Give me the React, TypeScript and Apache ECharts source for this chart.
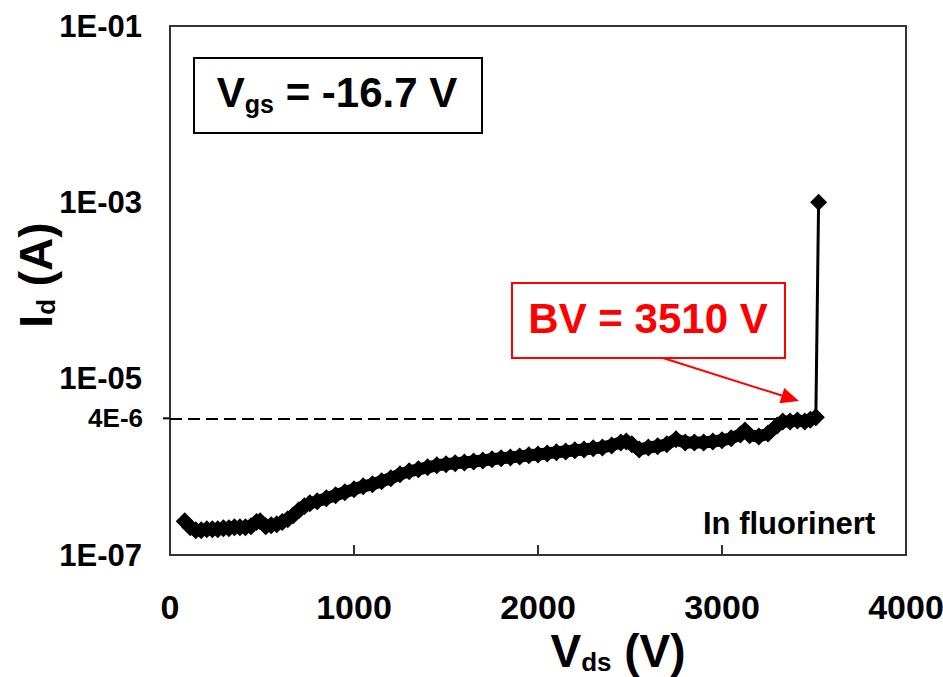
import React, { useEffect, useRef } from "react";
import * as echarts from "echarts";

// Drain voltage (V)
const vds = [
  80, 110, 140, 170, 200, 230, 260, 290, 320, 350,
  380, 410, 440, 470, 490, 520, 550, 580, 610, 640,
  670, 700, 730, 760, 800, 850, 900, 950, 1000, 1050,
  1100, 1150, 1200, 1250, 1300, 1350, 1400, 1450, 1500, 1550,
  1600, 1650, 1700, 1750, 1800, 1850, 1900, 1950, 2000, 2050,
  2100, 2150, 2200, 2250, 2300, 2350, 2400, 2450, 2480, 2510,
  2550, 2600, 2650, 2700, 2750, 2800, 2850, 2900, 2950, 3000,
  3050, 3100, 3125, 3150, 3200, 3250, 3300, 3330, 3370, 3410,
  3450, 3480, 3510, 3525,
];
// Drain current (A)
const idA = [
  2.41e-7, 2.07e-7, 1.91e-7, 1.91e-7, 1.96e-7, 1.96e-7, 1.96e-7, 2.01e-7, 2.01e-7, 2.07e-7,
  2.07e-7, 2.07e-7, 2.12e-7, 2.36e-7, 2.41e-7, 2.12e-7, 2.17e-7, 2.23e-7, 2.36e-7, 2.55e-7,
  2.82e-7, 3.21e-7, 3.57e-7, 3.86e-7, 4.06e-7, 4.4e-7, 4.75e-7, 5.14e-7, 5.56e-7, 6.01e-7,
  6.34e-7, 6.85e-7, 7.41e-7, 8.22e-7, 8.89e-7, 9.37e-7, 9.87e-7, 1.04e-6, 1.07e-6, 1.1e-6,
  1.12e-6, 1.15e-6, 1.18e-6, 1.22e-6, 1.25e-6, 1.28e-6, 1.31e-6, 1.35e-6, 1.38e-6, 1.42e-6,
  1.46e-6, 1.49e-6, 1.54e-6, 1.57e-6, 1.62e-6, 1.66e-6, 1.75e-6, 1.89e-6, 1.94e-6, 1.8e-6,
  1.57e-6, 1.66e-6, 1.71e-6, 1.8e-6, 2.05e-6, 1.89e-6, 1.89e-6, 1.89e-6, 1.94e-6, 2.0e-6,
  2.11e-6, 2.33e-6, 2.59e-6, 2.28e-6, 2.21e-6, 2.39e-6, 2.95e-6, 3.27e-6, 3.27e-6, 3.35e-6,
  3.27e-6, 3.43e-6, 3.64e-6, 1.0e-3,
];

const xTickValues = [0, 1000, 2000, 3000, 4000];
const yTickValues = [1e-7, 1e-5, 1e-3, 1e-1];
const yTickLabels = ["1E-07", "1E-05", "1E-03", "1E-01"];

const refLevel = 3.55e-6;
const refLevelLabel = "4E-6";
const bvVoltage = 3510;
const vgsText = "-16.7 V";
const bvText = "BV = 3510 V";
const noteText = "In fluorinert";

const FONT = "Liberation Sans, Arial, Helvetica, sans-serif";

export default function App() {
  const ref = useRef<HTMLDivElement>(null);

  useEffect(() => {
    document.body.style.margin = "0";
    const chart = echarts.init(ref.current!, null, { renderer: "svg" });

    const yLabel = (v: number) => {
      const e = Math.round(Math.log10(v));
      const i = yTickValues.findIndex((t) => Math.round(Math.log10(t)) === e);
      return i >= 0 ? yTickLabels[i] : "";
    };

    const pts = vds.map((v, i) => [v, idA[i]]);
    const n = pts.length;

    chart.setOption({
      animation: false,
      backgroundColor: "#ffffff",
      grid: {
        left: 170,
        top: 26,
        width: 736,
        height: 529,
        show: true,
        borderColor: "#333",
        borderWidth: 2,
        backgroundColor: "transparent",
        containLabel: false,
        outerBoundsMode: "none",
      },
      xAxis: {
        type: "value",
        min: xTickValues[0],
        max: xTickValues[xTickValues.length - 1],
        interval: 1000,
        axisLine: { show: true, onZero: false, lineStyle: { color: "#333", width: 2 } },
        axisTick: { show: true, inside: true, length: 10, lineStyle: { color: "#333", width: 2 } },
        splitLine: { show: false },
        axisLabel: {
          formatter: (v: number) => String(v),
          margin: 35,
          fontSize: 34,
          fontWeight: "bold",
          fontFamily: FONT,
          color: "#000",
        },
      },
      yAxis: {
        type: "log",
        logBase: 10,
        min: 1e-7,
        max: 1e-1,
        axisLine: { show: true, lineStyle: { color: "#333", width: 2 } },
        axisTick: { show: false },
        minorTick: { show: false },
        splitLine: { show: false },
        axisLabel: {
          formatter: yLabel,
          margin: 28,
          fontSize: 31,
          fontWeight: "bold",
          fontFamily: FONT,
          color: "#000",
        },
      },
      series: [
        {
          type: "line",
          data: pts.slice(0, n - 1),
          symbol: "diamond",
          symbolSize: 18,
          showAllSymbol: true,
          itemStyle: { color: "#000" },
          lineStyle: { color: "#000", width: 12, join: "round", cap: "round" },
          z: 3,
          markLine: {
            silent: true,
            symbol: ["none", "none"],
            lineStyle: { type: [12, 6], color: "#000", width: 2 },
            label: {
              show: true,
              position: "start",
              distance: 27,
              formatter: refLevelLabel,
              fontSize: 26,
              fontWeight: "bold",
              fontFamily: FONT,
              color: "#000",
            },
            data: [[{ coord: [0, refLevel] }, { coord: [bvVoltage, refLevel] }]],
          },
        },
        {
          // breakdown jump: thin vertical segment up to the last point
          type: "line",
          data: pts.slice(n - 2),
          symbol: "diamond",
          symbolSize: 17,
          showAllSymbol: true,
          itemStyle: { color: "#000" },
          lineStyle: { color: "#000", width: 3 },
          z: 4,
        },
      ],
    });

    const p0 = chart.convertToPixel({ gridIndex: 0 }, [0, refLevel]) as number[];

    // arrow geometry
    const ax0 = 663, ay0 = 358, tx = 799, ty = 401;
    const dx = tx - ax0, dy = ty - ay0;
    const L = Math.sqrt(dx * dx + dy * dy);
    const ux = dx / L, uy = dy / L;
    const hl = 18, hw = 8;
    const bx = tx - hl * ux, by = ty - hl * uy;

    chart.setOption({
      graphic: [
        {
          type: "line",
          shape: { x1: p0[0] - 7, y1: p0[1], x2: p0[0], y2: p0[1] },
          style: { stroke: "#000", lineWidth: 2 },
        },
        {
          type: "rect",
          shape: { x: 194, y: 58, width: 288, height: 75 },
          style: { fill: "#fff", stroke: "#000", lineWidth: 2 },
          z: 10,
        },
        {
          type: "text",
          x: 337,
          y: 92,
          z: 11,
          style: {
            text: "{m|V}{s|gs}{m| = " + vgsText + "}",
            align: "center",
            verticalAlign: "middle",
            rich: {
              m: { fontSize: 42, fontWeight: "bold", fontFamily: FONT, fill: "#000" },
              s: { fontSize: 25, fontWeight: "bold", fontFamily: FONT, fill: "#000", padding: [24, 0, 0, 0] },
            },
          },
        },
        {
          type: "rect",
          shape: { x: 512, y: 283, width: 273, height: 75 },
          style: { fill: "#fff", stroke: "#ff0000", lineWidth: 2 },
          z: 10,
        },
        {
          type: "text",
          x: 648,
          y: 318,
          z: 11,
          style: {
            text: bvText,
            align: "center",
            verticalAlign: "middle",
            fontSize: 42,
            fontWeight: "bold",
            fontFamily: FONT,
            fill: "#ff0000",
          },
        },
        {
          type: "line",
          z: 11,
          shape: { x1: ax0, y1: ay0, x2: bx, y2: by },
          style: { stroke: "#ff0000", lineWidth: 2 },
        },
        {
          type: "polygon",
          z: 11,
          shape: {
            points: [
              [tx, ty],
              [bx - hw * uy, by + hw * ux],
              [bx + hw * uy, by - hw * ux],
            ],
          },
          style: { fill: "#ff0000" },
        },
        {
          type: "text",
          x: 703,
          y: 523,
          z: 11,
          style: {
            text: noteText,
            align: "left",
            verticalAlign: "middle",
            fontSize: 31,
            fontWeight: "bold",
            fontFamily: FONT,
            fill: "#000",
          },
        },
        {
          type: "text",
          x: 618,
          y: 651,
          z: 11,
          style: {
            text: "{m|V}{s|ds}{m| (V)}",
            align: "center",
            verticalAlign: "middle",
            rich: {
              m: { fontSize: 46, fontWeight: "bold", fontFamily: FONT, fill: "#000" },
              s: { fontSize: 26, fontWeight: "bold", fontFamily: FONT, fill: "#000", padding: [22, 0, 0, 0] },
            },
          },
        },
        {
          type: "text",
          x: 36,
          y: 275,
          rotation: Math.PI / 2,
          z: 11,
          style: {
            text: "{m|I}{s|d}{m| (A)}",
            align: "center",
            verticalAlign: "middle",
            rich: {
              m: { fontSize: 46, fontWeight: "bold", fontFamily: FONT, fill: "#000" },
              s: { fontSize: 26, fontWeight: "bold", fontFamily: FONT, fill: "#000", padding: [20, 0, 0, 0] },
            },
          },
        },
      ],
    });

    return () => chart.dispose();
  }, []);

  return (
    <div
      ref={ref}
      style={{ position: "fixed", left: 0, top: 0, width: 943, height: 677, background: "#fff" }}
    />
  );
}
